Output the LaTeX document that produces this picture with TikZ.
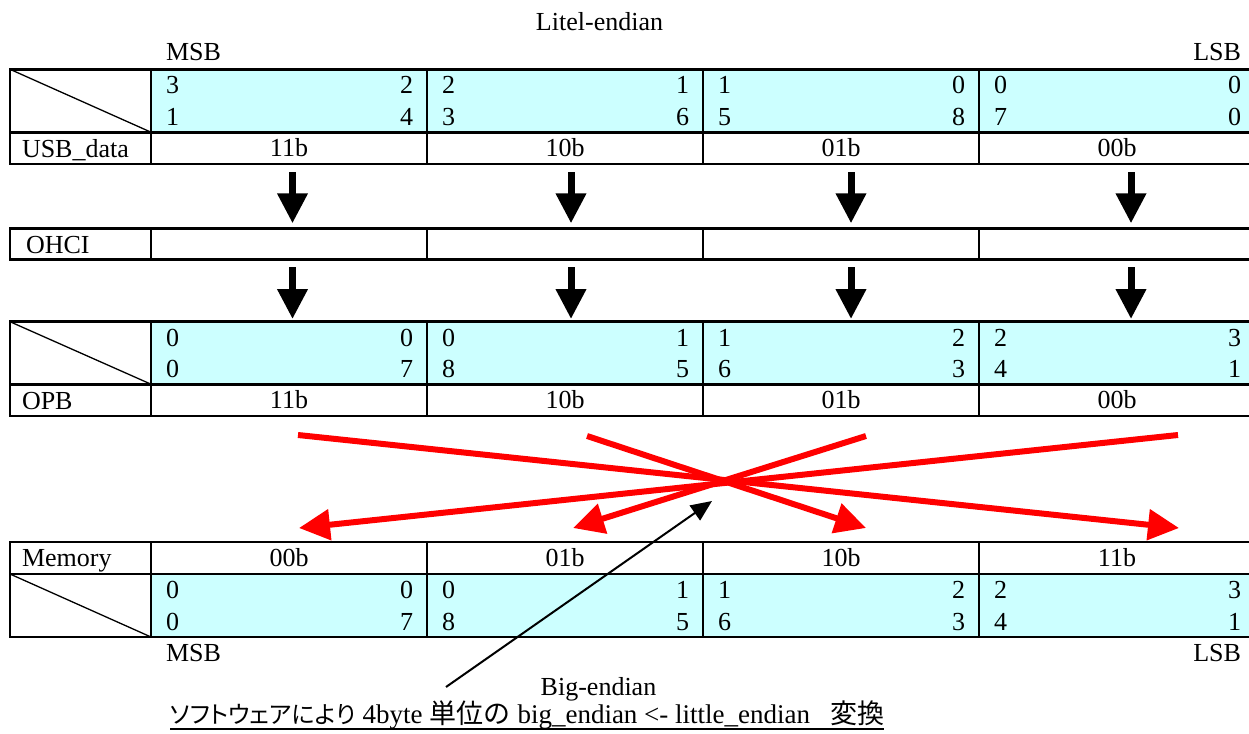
\documentclass[tikz,border=0pt]{standalone}
\usepackage{fontspec}
\setmainfont{Liberation Serif}
\newfontfamily\jpfont[RawFeature=+palt]{Noto Sans CJK JP}
\newfontfamily\jpfontk{Noto Sans CJK JP}
\newcommand{\jptext}[1]{{\jpfont\fontsize{24}{28}\selectfont #1}}
\newcommand{\jpkanji}[1]{{\jpfontk\fontsize{27}{30}\selectfont #1}}
\usetikzlibrary{arrows.meta}
\definecolor{cellcyan}{HTML}{CCFFFF}
\definecolor{arrred}{HTML}{FF0000}
\begin{document}
\begin{tikzpicture}[x=1pt,y=-1pt,
  every node/.style={inner sep=0pt,outer sep=0pt,font=\fontsize{26}{30}\selectfont},
  gridline/.style={line width=2.6pt},
  diagline/.style={line width=1.3pt},
  lbl/.style={anchor=base west},
  dig/.style={anchor=base west},
  digr/.style={anchor=base east},
  cellbox/.style={minimum width=276pt,text height=17pt,text depth=0pt,align=center},
  datacell/.style={fill=cellcyan,minimum width=276pt},
  bigarrow/.style={line width=7pt,-{Triangle[length=30pt,width=29pt]}},
  redarrow/.style={draw=arrred,line width=6pt,-{Triangle[length=31pt,width=30pt]}},
  notearrow/.style={line width=2pt,-{Triangle[length=21pt,width=18pt]}},
  title/.style={anchor=base},
]
\useasboundingbox (0,0) rectangle (1249,733);

% ---------- titles ----------
\node[title] (litel) at (599.5,31) {Litel-endian};
\node[anchor=base west] (msbtop) at (166,61) {MSB};
\node[anchor=base east] (lsbtop) at (1241,61) {LSB};

% ---------- Table 1 (USB_data) ----------
\foreach \i in {1,...,4}
  \node[datacell,minimum height=62.9pt] (a\i) at ({289+276*(\i-1)},100.75) {};
\draw[diagline] (10,69.3) -- (151,132.2);
\draw[gridline] (10,69.3) rectangle (1255,164);
\draw[gridline] (10,132.2) -- (1255,132.2);
\foreach \x in {151,427,703,979} \draw[gridline] (\x,69.3) -- (\x,164);
\node[lbl] (usblbl) at (22,157) {USB\_data};
\foreach \i/\lab in {1/11b,2/10b,3/01b,4/00b}
  \node[cellbox,minimum height=31.8pt] (u\i) at ({289+276*(\i-1)},148.1) {\lab};
\foreach \i/\a/\b/\c/\d in {1/3/2/1/4,2/2/1/3/6,3/1/0/5/8,4/0/0/7/0} {
  \node[dig]  (aTL\i) at ({166+276*(\i-1)},93.9) {\a};
  \node[digr] (aTR\i) at ({413+276*(\i-1)},93.9) {\b};
  \node[dig]  (aBL\i) at ({166+276*(\i-1)},125.7) {\c};
  \node[digr] (aBR\i) at ({413+276*(\i-1)},125.7) {\d};
}

% ---------- OHCI ----------
\draw[gridline] (10,228.3) rectangle (1255,259.3);
\foreach \x in {151,427,703,979} \draw[gridline] (\x,228.3) -- (\x,259.3);
\node[lbl] (ohcilbl) at (26,253) {OHCI};
\foreach \i in {1,...,4}
  \node[cellbox,minimum height=31pt] (o\i) at ({289+276*(\i-1)},243.8) {};

% ---------- Table 2 (OPB) ----------
\foreach \i in {1,...,4}
  \node[datacell,minimum height=62.5pt] (b\i) at ({289+276*(\i-1)},352.95) {};
\draw[diagline] (10,321.7) -- (151,384.2);
\draw[gridline] (10,321.7) rectangle (1255,416);
\draw[gridline] (10,384.2) -- (1255,384.2);
\foreach \x in {151,427,703,979} \draw[gridline] (\x,321.7) -- (\x,416);
\node[lbl] (opblbl) at (22,409) {OPB};
\foreach \i/\lab in {1/11b,2/10b,3/01b,4/00b}
  \node[cellbox,minimum height=31.8pt] (p\i) at ({289+276*(\i-1)},400.1) {\lab};
\foreach \i/\a/\b/\c/\d in {1/0/0/0/7,2/0/1/8/5,3/1/2/6/3,4/2/3/4/1} {
  \node[dig]  (bTL\i) at ({166+276*(\i-1)},346.5) {\a};
  \node[digr] (bTR\i) at ({413+276*(\i-1)},346.5) {\b};
  \node[dig]  (bBL\i) at ({166+276*(\i-1)},377.5) {\c};
  \node[digr] (bBR\i) at ({413+276*(\i-1)},377.5) {\d};
}

% ---------- Table 3 (Memory) ----------
\foreach \i in {1,...,4}
  \node[datacell,minimum height=63pt] (c\i) at ({289+276*(\i-1)},605.5) {};
\draw[diagline] (10,574) -- (151,637);
\draw[gridline] (10,542) rectangle (1255,637);
\draw[gridline] (10,574) -- (1255,574);
\foreach \x in {151,427,703,979} \draw[gridline] (\x,542) -- (\x,637);
\node[lbl] (memlbl) at (22,566.5) {Memory};
\foreach \i/\lab in {1/00b,2/01b,3/10b,4/11b}
  \node[cellbox,minimum height=32pt] (m\i) at ({289+276*(\i-1)},558) {\lab};
\foreach \i/\a/\b/\c/\d in {1/0/0/0/7,2/0/1/8/5,3/1/2/6/3,4/2/3/4/1} {
  \node[dig]  (cTL\i) at ({166+276*(\i-1)},598.5) {\a};
  \node[digr] (cTR\i) at ({413+276*(\i-1)},598.5) {\b};
  \node[dig]  (cBL\i) at ({166+276*(\i-1)},630.5) {\c};
  \node[digr] (cBR\i) at ({413+276*(\i-1)},630.5) {\d};
}
\node[anchor=base west] (msbbot) at (166,661.7) {MSB};
\node[anchor=base east] (lsbbot) at (1241,661.7) {LSB};

% ---------- black arrows ----------
\foreach \i/\dx in {1/3.5,2/6,3/10,4/14} {
  \draw[bigarrow] ([xshift=\dx pt,yshift=-8pt]u\i.south) -- ([xshift=\dx pt,yshift=5pt]o\i.north);
  \draw[bigarrow] ([xshift=\dx pt,yshift=-7.7pt]o\i.south) -- ([xshift=\dx pt,yshift=2.7pt]b\i.north);
}

% ---------- red arrows ----------
\draw[redarrow] ([xshift=61pt,yshift=-19pt]p4.south) -- ([xshift=10pt,yshift=14pt]m1.north);
\draw[redarrow] ([xshift=9pt,yshift=-19pt]p1.south) -- ([xshift=62pt,yshift=14pt]m4.north);
\draw[redarrow] ([xshift=22pt,yshift=-20pt]p2.south) -- ([xshift=25pt,yshift=14pt]m3.north);
\draw[redarrow] ([xshift=25pt,yshift=-20pt]p3.south) -- ([xshift=8pt,yshift=14pt]m2.north);

% ---------- note ----------
\node[title] (bigend) at (598.5,695) {Big-endian};
\node[anchor=base west,font=\fontsize{27}{30}\selectfont] (note) at (170,723) {\jptext{ソフトウェアにより}\hspace{7pt}4byte\hspace{7pt}\jpkanji{単位の}\hspace{7pt}big\_endian <- little\_endian\hspace{20pt}\jpkanji{変換}};
\draw[line width=1.3pt] ([yshift=-6pt]note.base west) -- ([yshift=-6pt]note.base east);
\coordinate (notetail) at (446,687);
\coordinate (notetip) at (712,501);
\draw[notearrow] (notetail) -- (notetip);
\end{tikzpicture}
\end{document}
